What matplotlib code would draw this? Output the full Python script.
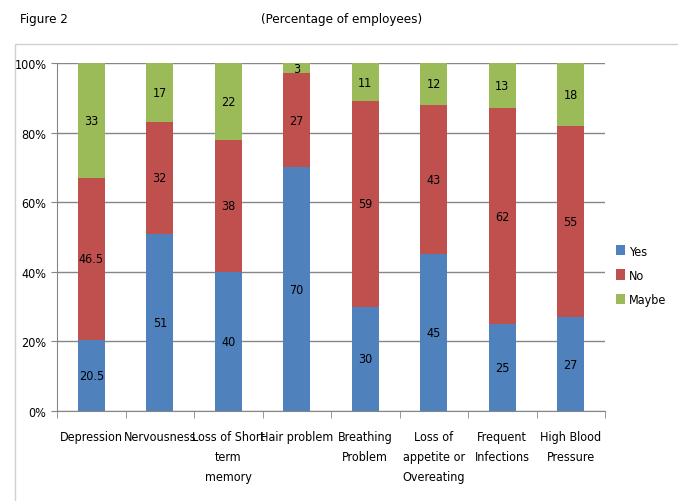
import matplotlib.pyplot as plt
from matplotlib.patches import Rectangle
from matplotlib.ticker import FixedLocator, NullFormatter
import numpy as np

plt.rcParams['font.family'] = ['DejaVu Sans']
plt.rcParams['font.stretch'] = 'condensed'

categories = ["Depression", "Nervousness", "Loss of Short\nterm\nmemory", "Hair problem",
              "Breathing\nProblem", "Loss of\nappetite or\nOvereating", "Frequent\nInfections",
              "High Blood\nPressure"]
yes = [20.5, 51, 40, 70, 30, 45, 25, 27]
no = [46.5, 32, 38, 27, 59, 43, 62, 55]
maybe = [33, 17, 22, 3, 11, 12, 13, 18]

series = [("Yes", yes, "#4F81BD"), ("No", no, "#C0504D"), ("Maybe", maybe, "#9BBB59")]

fig = plt.figure(figsize=(6.78, 5.02), dpi=100)
fig.patches.append(Rectangle((15 / 678, -0.1), 1.0, 1 - 45 / 502 + 0.1, transform=fig.transFigure,
                             fill=False, edgecolor="#D0D0D0", linewidth=1))
fig.text(20 / 678, 1 - 20 / 502, "Figure 2", fontsize=9.5, va="center", ha="left")
fig.text(342 / 678, 1 - 20 / 502, "(Percentage of employees)", fontsize=9.5, va="center", ha="center")

ax = fig.add_axes([57 / 678, 1 - 412 / 502, (605 - 57) / 678, (412 - 64) / 502])
x = np.arange(len(categories))
bottom = np.zeros(len(categories))
for name, vals, color in series:
    vals = np.array(vals, dtype=float)
    ax.bar(x, vals, 0.4, bottom=bottom, color=color, label=name, zorder=3)
    for xi, b, v in zip(x, bottom, vals):
        ax.text(xi, b + v / 2, f"{v:g}", ha="center", va="center", fontsize=9, zorder=4)
    bottom += vals

ax.set_xlim(-0.5, len(categories) - 0.5)
ax.set_ylim(0, 100)
ax.set_yticks(np.arange(0, 101, 20))
ax.set_yticklabels([f"{v}%" for v in range(0, 101, 20)], fontsize=9)
ax.yaxis.grid(True, color="#868686", linewidth=1, zorder=0)
ax.set_xticks(x)
ax.set_xticklabels(categories, fontsize=9, linespacing=1.7, va="top")
ax.tick_params(axis="x", length=0, pad=14)
ax.xaxis.set_minor_locator(FixedLocator(np.arange(-0.5, len(categories), 1)))
ax.xaxis.set_minor_formatter(NullFormatter())
ax.tick_params(axis="x", which="minor", length=5, color="#868686")
ax.tick_params(axis="y", length=4, color="#868686")
for s in ["top", "right"]:
    ax.spines[s].set_visible(False)
for s in ["left", "bottom"]:
    ax.spines[s].set_color("#868686")

ax.legend(loc="center left", bbox_to_anchor=(1.0, 0.39), frameon=False, fontsize=9,
          handlelength=0.7, handleheight=0.9, handletextpad=0.3, labelspacing=0.9)

fig.savefig("out.png", dpi=100)
